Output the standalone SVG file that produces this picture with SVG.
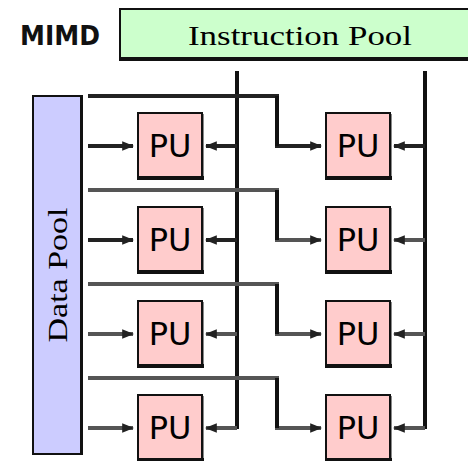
<svg xmlns="http://www.w3.org/2000/svg" width="468" height="461" viewBox="0 0 468 461">
<defs>
<style>
.pu rect.b{fill:#ffcccc;stroke:#111;stroke-width:2}
.pu rect.sh{fill:#111}
.pu rect.sr{fill:#8a8a8a}
.pu text{font-family:"DejaVu Sans",sans-serif;font-size:32px;fill:#000;text-anchor:middle}
.serif{font-family:"Liberation Serif","DejaVu Serif",serif;fill:#000}
.v{stroke:#111;stroke-width:4;fill:none}
.h1{stroke:#222;stroke-width:4;fill:none}
.h2{stroke:#555;stroke-width:4;fill:none}
</style>
<marker id="ah" viewBox="0 0 10 10" refX="9" refY="5" markerWidth="3" markerHeight="3" orient="auto" markerUnits="strokeWidth">
<path d="M0,1 L10,5 L0,9 Z" fill="#222"/>
</marker>
</defs>
<rect width="468" height="461" fill="#fff"/>

<g id="mimd-label">
<text x="20" y="45" font-family="DejaVu Sans" font-weight="bold" font-size="27" fill="#111" textLength="80" lengthAdjust="spacingAndGlyphs">MIMD</text>
</g>

<g id="instruction-pool">
<rect x="120" y="9" width="352" height="50" fill="#ccffcc" stroke="#111" stroke-width="2"/>
<rect x="119" y="57" width="353" height="4" fill="#111"/>
<text class="serif" x="300" y="45" font-size="28" text-anchor="middle" textLength="224" lengthAdjust="spacingAndGlyphs">Instruction Pool</text>
</g>

<g id="data-pool">
<rect x="33" y="96" width="48" height="358" fill="#ccccff" stroke="#111" stroke-width="2"/>
<rect x="80" y="95" width="3" height="360" fill="#111"/>
<text class="serif" font-size="28" text-anchor="middle" textLength="135" lengthAdjust="spacingAndGlyphs" transform="translate(67,275) rotate(-90)">Data Pool</text>
</g>

<g id="connectors">
<!-- instruction verticals -->
<path class="v" d="M237,71 V429"/>
<path class="v" d="M425,71 V429"/>
<!-- row lines from data pool -->
<path class="h1" d="M88,96 H277 V146 H318" />
<path class="h2" d="M88,190 H277 V240 H318" />
<path class="h2" d="M88,284 H277 V334 H318" />
<path class="h2" d="M88,378 H277 V428 H318" />
<path class="v" d="M277,96 V146"/>
<path class="v" d="M277,190 V240"/>
<path class="v" d="M277,284 V334"/>
<path class="v" d="M277,378 V428"/>
<!-- arrows into right PUs -->
<path class="h1" d="M300,146 H321" marker-end="url(#ah)"/>
<path class="h2" d="M300,240 H321" marker-end="url(#ah)"/>
<path class="h2" d="M300,334 H321" marker-end="url(#ah)"/>
<path class="h2" d="M300,428 H321" marker-end="url(#ah)"/>
<!-- arrows from data pool to left PUs -->
<path class="h1" d="M88,146 H133" marker-end="url(#ah)"/>
<path class="h1" d="M88,240 H133" marker-end="url(#ah)"/>
<path class="h2" d="M88,334 H133" marker-end="url(#ah)"/>
<path class="h2" d="M88,428 H133" marker-end="url(#ah)"/>
<!-- arrows from instruction line to left PUs -->
<path class="h1" d="M237,146 H206" marker-end="url(#ah)"/>
<path class="h1" d="M237,240 H206" marker-end="url(#ah)"/>
<path class="h2" d="M237,334 H206" marker-end="url(#ah)"/>
<path class="h2" d="M237,428 H206" marker-end="url(#ah)"/>
<!-- arrows from instruction line to right PUs -->
<path class="h1" d="M425,146 H394" marker-end="url(#ah)"/>
<path class="h2" d="M425,240 H394" marker-end="url(#ah)"/>
<path class="h2" d="M425,334 H394" marker-end="url(#ah)"/>
<path class="h2" d="M425,428 H394" marker-end="url(#ah)"/>
</g>

<g id="pu-l1" class="pu"><rect class="sr" x="201" y="114" width="3" height="64"/><rect class="b" x="138" y="113" width="64" height="64"/><rect class="sh" x="137" y="176" width="67" height="4"/><text x="170" y="157">PU</text></g>
<g id="pu-l2" class="pu"><rect class="sr" x="201" y="208" width="3" height="64"/><rect class="b" x="138" y="207" width="64" height="64"/><rect class="sh" x="137" y="270" width="67" height="4"/><text x="170" y="251">PU</text></g>
<g id="pu-l3" class="pu"><rect class="sr" x="201" y="302" width="3" height="64"/><rect class="b" x="138" y="301" width="64" height="64"/><rect class="sh" x="137" y="364" width="67" height="4"/><text x="170" y="345">PU</text></g>
<g id="pu-l4" class="pu"><rect class="sr" x="201" y="396" width="3" height="64"/><rect class="b" x="138" y="395" width="64" height="64"/><rect class="sh" x="137" y="458" width="67" height="4"/><text x="170" y="439">PU</text></g>

<g id="pu-r1" class="pu"><rect class="sr" x="389" y="114" width="3" height="64"/><rect class="b" x="326" y="113" width="64" height="64"/><rect class="sh" x="325" y="176" width="67" height="4"/><text x="358" y="157">PU</text></g>
<g id="pu-r2" class="pu"><rect class="sr" x="389" y="208" width="3" height="64"/><rect class="b" x="326" y="207" width="64" height="64"/><rect class="sh" x="325" y="270" width="67" height="4"/><text x="358" y="251">PU</text></g>
<g id="pu-r3" class="pu"><rect class="sr" x="389" y="302" width="3" height="64"/><rect class="b" x="326" y="301" width="64" height="64"/><rect class="sh" x="325" y="364" width="67" height="4"/><text x="358" y="345">PU</text></g>
<g id="pu-r4" class="pu"><rect class="sr" x="389" y="396" width="3" height="64"/><rect class="b" x="326" y="395" width="64" height="64"/><rect class="sh" x="325" y="458" width="67" height="4"/><text x="358" y="439">PU</text></g>
</svg>
